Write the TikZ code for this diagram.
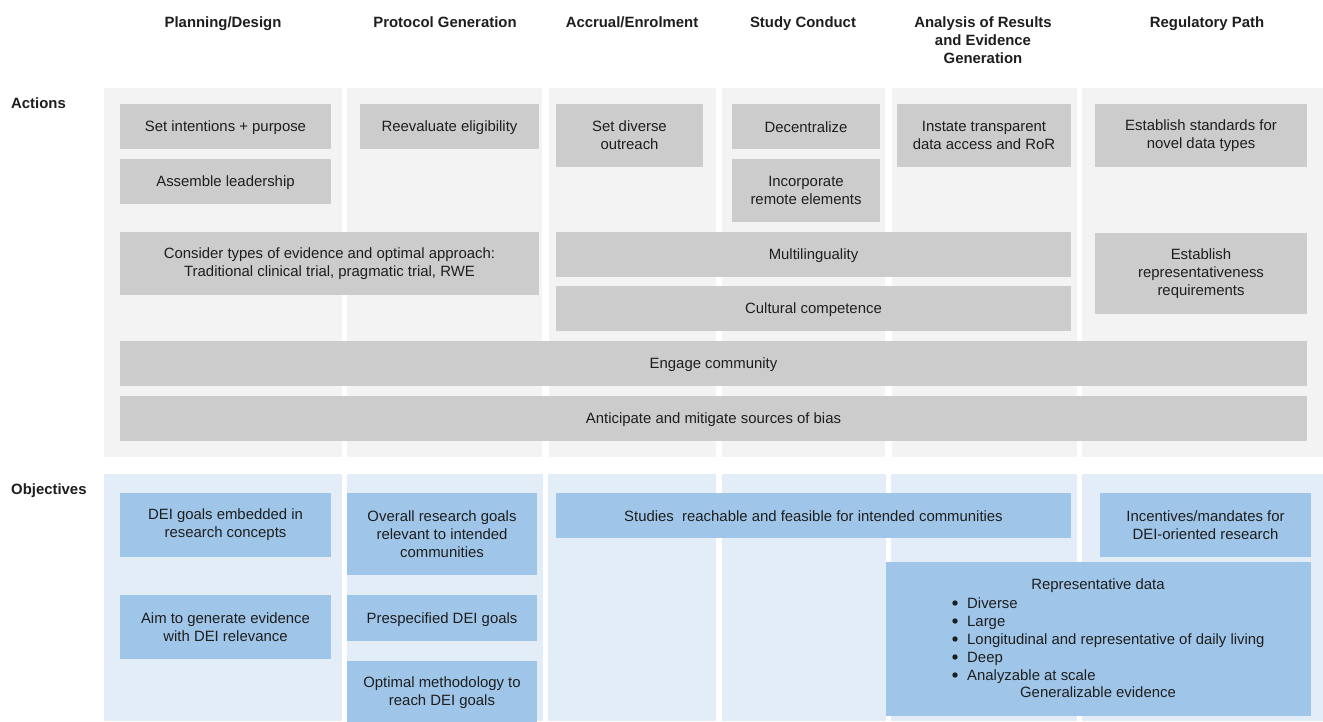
\documentclass[tikz,border=0pt]{standalone}
\usepackage{fontspec}
\setmainfont{Liberation Sans}
\definecolor{actbg}{HTML}{F3F3F3}
\definecolor{actbox}{HTML}{CCCCCC}
\definecolor{objbg}{HTML}{E2EDF8}
\definecolor{objbox}{HTML}{9FC5E8}
\definecolor{ink}{HTML}{1E1E1E}
\newcommand\mybox[7]{\node[#6, minimum width={#4-#2}, minimum height={#5-#3}] (#1) at ({(#2+#4)/2},{(#3+#5)/2}) {#7};}
\newcommand\bdep{2.6pt}
\newcommand\tstrut{\rule{0pt}{14pt}}
\newcommand\bstrut{\rule[-\bdep]{0pt}{\bdep}}
\begin{document}
\begin{tikzpicture}[x=1pt,y=-1pt,
  txt/.style={font=\fontsize{14.9}{18}\selectfont, text=ink, align=center, inner sep=0pt,
    execute at begin node=\tstrut, execute at end node=\bstrut},
  ml/.style={execute at begin node={\def\bdep{0pt}}},
  hdr/.style={txt, font=\fontsize{14.9}{18}\selectfont\bfseries},
  abox/.style={txt, fill=actbox},
  obox/.style={txt, fill=objbox},
  abm/.style={abox, ml},
  obm/.style={obox, ml},
  bulletdot/.style={fill=ink}]
\useasboundingbox (0,0) rectangle (1323,721);
\clip (0,0) rectangle (1323,721);
\fill[white] (0,0) rectangle (1323,721);
% column backgrounds - actions
\foreach \a/\b in {104/342,347/542,549/716,722/885,892/1077,1082/1323}
  \fill[actbg] (\a,88) rectangle (\b,457);
% column backgrounds - objectives
\foreach \a/\b in {104/342,347/543,548/716,722/886,891/1077,1082/1323}
  \fill[objbg] (\a,474) rectangle (\b,721);
% headers
\node[hdr] (h1) at (223,22) {Planning/Design};
\node[hdr] (h2) at (445,22) {Protocol Generation};
\node[hdr] (h3) at (632,22) {Accrual/Enrolment};
\node[hdr] (h4) at (803,22) {Study Conduct};
\node[hdr, ml] (h5) at (983,40) {Analysis of Results\\and Evidence\\Generation};
\node[hdr] (h6) at (1207,22) {Regulatory Path};
\node[hdr, anchor=west] (lact) at (11,102.5) {Actions};
\node[hdr, anchor=west] (lobj) at (11,489) {Objectives};
% action boxes
\mybox{setint}{120}{104}{331}{149}{abox}{Set intentions + purpose}
\mybox{assemble}{120}{159}{331}{204}{abox}{Assemble leadership}
\mybox{reeval}{360}{104}{539}{149}{abox}{Reevaluate eligibility}
\mybox{outreach}{556}{104}{703}{167}{abm}{Set diverse\\outreach}
\mybox{decentral}{732}{104}{880}{149}{abox}{Decentralize}
\mybox{remote}{732}{159}{880}{222}{abm}{Incorporate\\remote elements}
\mybox{instate}{897}{104}{1071}{167}{abm}{Instate transparent\\data access and RoR}
\mybox{standards}{1095}{104}{1307}{167}{abm}{Establish standards for\\novel data types}
\mybox{consider}{120}{232}{539}{295}{abm}{Consider types of evidence and optimal approach:\\Traditional clinical trial, pragmatic trial, RWE}
\mybox{multi}{556}{232}{1071}{277}{abox}{Multilinguality}
\mybox{cultural}{556}{286}{1071}{331}{abox}{Cultural competence}
\mybox{repreq}{1095}{233}{1307}{314}{abm}{Establish\\representativeness\\requirements}
\mybox{engage}{120}{341}{1307}{386}{abox}{Engage community}
\mybox{bias}{120}{396}{1307}{441}{abox}{Anticipate and mitigate sources of bias}
% objective boxes
\mybox{deigoals}{120}{493}{331}{557}{obm}{DEI goals embedded in\\research concepts}
\mybox{aimgen}{120}{595}{331}{659}{obm}{Aim to generate evidence\\with DEI relevance}
\mybox{overall}{347}{493}{537}{575}{obm}{Overall research goals\\relevant to intended\\communities}
\mybox{prespec}{347}{595}{537}{641}{obox}{Prespecified DEI goals}
\mybox{optimal}{347}{661}{537}{725}{obm}{Optimal methodology to\\reach DEI goals}
\mybox{studies}{556}{493}{1071}{538}{obox}{Studies\ \ reachable and feasible for intended communities}
\mybox{incent}{1100}{493}{1311}{557}{obm}{Incentives/mandates for\\DEI-oriented research}
\mybox{repdata}{886}{562}{1311}{716}{obox}{}
\node[txt] (reptitle) at (1098,584) {Representative data};
\node[txt, ml, align=left, anchor=west] (replist) at (967,641) {%
Diverse\\
Large\\
Longitudinal and representative of daily living\\
Deep\\
Analyzable at scale};
\foreach \k in {0,...,4}
  \fill[bulletdot] (955,{603+18*\k}) circle (2.7);
\node[txt] (repfoot) at (1098,692) {Generalizable evidence};
\end{tikzpicture}
\end{document}
